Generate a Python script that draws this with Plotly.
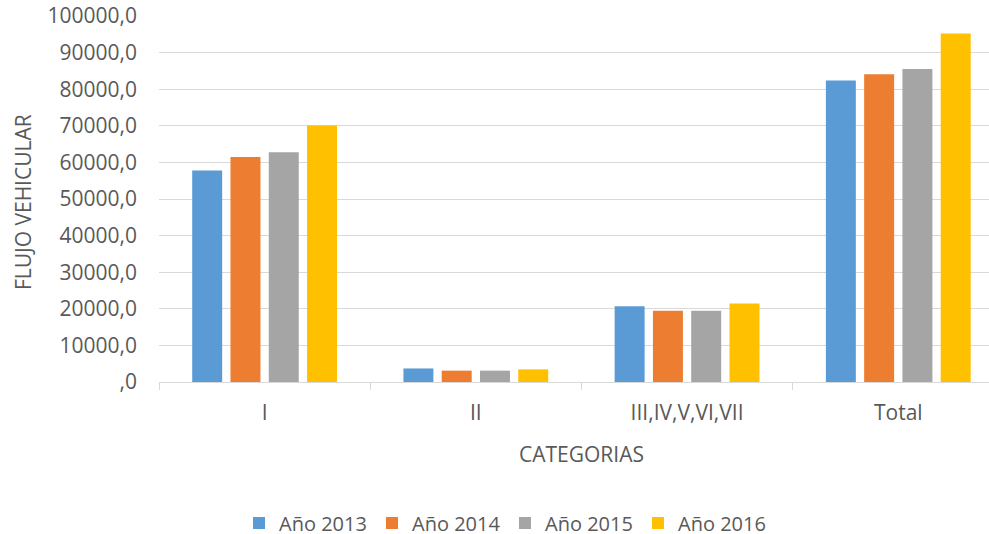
import plotly.graph_objects as go

categories = ["I", "II", "III,IV,V,VI,VII", "Total"]
series_names = ["Año 2013", "Año 2014", "Año 2015", "Año 2016"]
v2013 = [57800, 3700, 20700, 82400]
v2014 = [61500, 3100, 19450, 84100]
v2015 = [62750, 3100, 19450, 85500]
v2016 = [70100, 3450, 21450, 95200]
colors = ["#5B9BD5", "#ED7D31", "#A5A5A5", "#FFC000"]
y_ticks = [0, 10000, 20000, 30000, 40000, 50000, 60000, 70000, 80000, 90000, 100000]
y_ticktext = [",0", "10000,0", "20000,0", "30000,0", "40000,0", "50000,0",
              "60000,0", "70000,0", "80000,0", "90000,0", "100000,0"]

FONT = "Open Sans"
TXT = "#595959"
W, H = 989, 534
# target screen geometry of plot area
SL, ST, SR, SB = 158.7, 16, 989, 382.5
L, T, R, B = SL, ST, W - SR, H - SB
PW, PH = SR - SL, SB - ST
CAT_W = 211.3


def px(x):
    return (x - SL) / PW


def py(y):
    return (SB - y) / PH


fig = go.Figure()
for name, vals, col in zip(series_names, [v2013, v2014, v2015, v2016], colors):
    fig.add_trace(go.Bar(x=categories, y=vals, name=name, marker_color=col,
                         marker_line_width=0))

fig.update_layout(
    width=W, height=H,
    paper_bgcolor="white", plot_bgcolor="white",
    margin=dict(l=L, r=R, t=T, b=B, autoexpand=False),
    barmode="group", bargap=0.275, bargroupgap=0.217,
    font=dict(family=FONT, size=21, color=TXT),
    showlegend=True,
    legend=dict(orientation="h", xref="container", yref="container",
                x=505 / W, xanchor="center",
                y=(H - 523) / H, yanchor="middle",
                font=dict(size=20, color=TXT), itemwidth=30, tracegroupgap=0,
                entrywidth=88, entrywidthmode="pixels"),
    annotations=[
        dict(text="CATEGORIAS", xref="paper", yref="paper",
             x=px(581), y=py(455), xanchor="center", yanchor="middle",
             showarrow=False, font=dict(size=21, color=TXT)),
        dict(text="FLUJO VEHICULAR", xref="paper", yref="paper",
             x=px(22), y=py(202), xanchor="center", yanchor="middle",
             textangle=-90, showarrow=False, font=dict(size=21, color=TXT)),
    ],
)
fig.update_xaxes(
    range=[-0.5, -0.5 + PW / CAT_W],
    showline=True, linecolor="#D9D9D9", linewidth=1,
    ticks="outside", tickson="boundaries", ticklen=7, tickcolor="#D9D9D9",
    showgrid=False, tickfont=dict(size=21, color=TXT), fixedrange=True,
    ticklabelstandoff=12,
)
fig.update_yaxes(
    range=[0, 100000], tickvals=y_ticks, ticktext=y_ticktext,
    showgrid=True, gridcolor="#D9D9D9", gridwidth=1,
    showline=False, zeroline=False, ticks="", ticklabelstandoff=21,
    tickfont=dict(size=21, color=TXT), fixedrange=True,
)

fig.write_html(
    "out.html",
    config={"displayModeBar": False},
    post_script="document.body.style.margin='0';document.body.style.padding='0';",
)
